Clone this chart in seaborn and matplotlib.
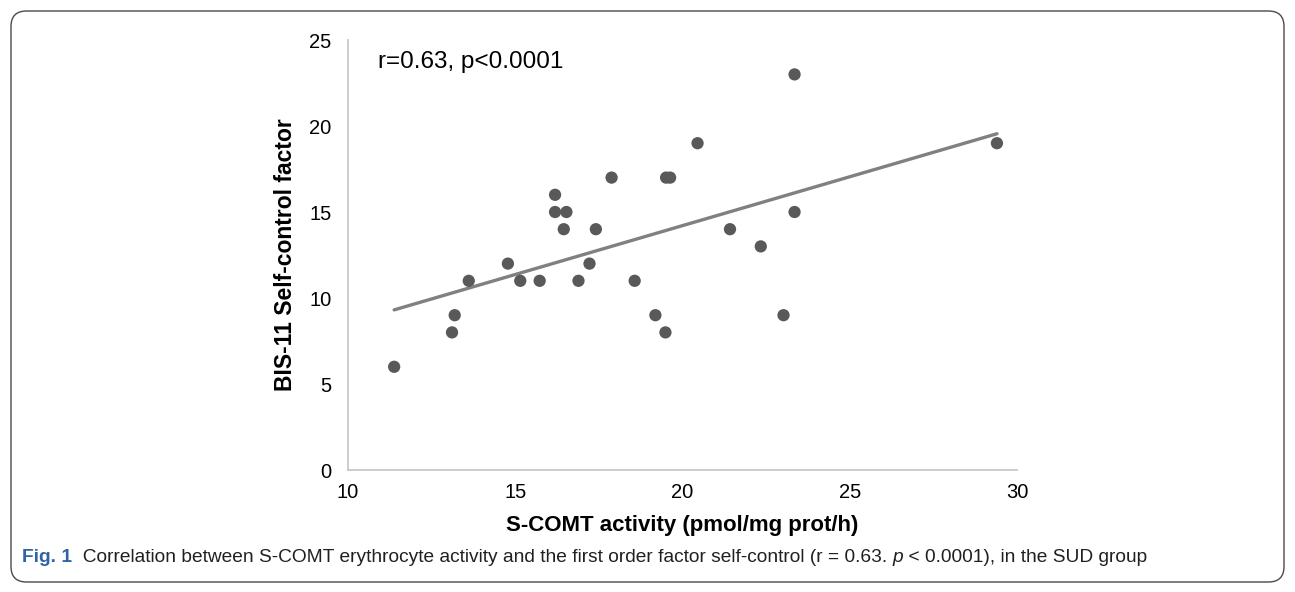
import matplotlib
matplotlib.use("Agg")
import matplotlib.pyplot as plt
from matplotlib import font_manager
from matplotlib.patches import FancyBboxPatch
import seaborn as sns
import pandas as pd

# Data
scomt_activity = [11.38, 13.11, 13.19, 13.61, 14.78, 15.15, 15.73, 16.19, 16.19,
                  16.53, 16.45, 16.89, 17.22, 17.41, 17.88, 18.57, 19.19, 19.49,
                  19.51, 19.63, 20.45, 21.42, 22.34, 23.02, 23.35, 23.35, 29.4]
self_control = [6, 8, 9, 11, 12, 11, 11, 16, 15,
                15, 14, 11, 12, 14, 17, 11, 9, 8,
                17, 17, 19, 14, 13, 9, 23, 15, 19]
x_ticks = [10, 15, 20, 25, 30]
y_ticks = [0, 5, 10, 15, 20, 25]

df = pd.DataFrame({"x": scomt_activity, "y": self_control})

sns.set_theme(style="white")
names = {f.name for f in font_manager.fontManager.ttflist}
base = "Liberation Sans" if "Liberation Sans" in names else "DejaVu Sans"
narrow = "Liberation Sans Narrow" if "Liberation Sans Narrow" in names else base
plt.rcParams["font.family"] = [base, "DejaVu Sans"]

fig = plt.figure(figsize=(12.95, 5.92), dpi=100)
ax = fig.add_axes([348 / 1295, 1 - 470 / 592, (1017 - 348) / 1295, (470 - 40) / 592])

sns.regplot(data=df, x="x", y="y", ax=ax, ci=None, truncate=True,
            scatter_kws=dict(s=78, color="#595959", edgecolor="none", alpha=1, zorder=3),
            line_kws=dict(color="#808080", lw=2.4, zorder=2))

ax.set_xlim(10, 30)
ax.set_ylim(0, 25)
ax.set_xticks(x_ticks)
ax.set_yticks(y_ticks)
ax.tick_params(axis="both", length=0, labelsize=14.5, colors="#000000")
ax.tick_params(axis="x", pad=9)
ax.tick_params(axis="y", pad=12)
for s in ["top", "right"]:
    ax.spines[s].set_visible(False)
for s in ["left", "bottom"]:
    ax.spines[s].set_color("#c8c8c8")
    ax.spines[s].set_linewidth(1.3)

ax.set_xlabel("S-COMT activity (pmol/mg prot/h)", fontsize=16, fontweight="bold",
              color="#000000", labelpad=10)
ax.set_ylabel("BIS-11 Self-control factor", fontsize=16.5, fontweight="bold",
              color="#000000", labelpad=9)

ax.text(378 / 1295, 1 - 62 / 592, "r=0.63, p<0.0001", transform=fig.transFigure,
        fontsize=17.5, ha="left", va="center", color="#000000")

# Rounded frame around figure
frame = FancyBboxPatch((11 / 1295, 10 / 592), 1273 / 1295, 571 / 592,
                       boxstyle="round,pad=0,rounding_size=0.012",
                       transform=fig.transFigure, facecolor="none",
                       edgecolor="#4a4a4a", lw=1.0, mutation_aspect=1295 / 592)
fig.patches.append(frame)

# Caption
cap_y = 1 - 557 / 592
fam = [narrow, "DejaVu Sans"]
t1 = fig.text(22 / 1295, cap_y, "Fig. 1", fontsize=13.8, fontweight="bold",
              color="#2f63a6", family=fam, va="center", ha="left")
a2 = ax.annotate("  Correlation between S-COMT erythrocyte activity and the first order factor self-control (r = 0.63. ",
                 xy=(1, 0), xycoords=t1, va="bottom", ha="left", fontsize=13.8,
                 color="#231f20", family=fam, annotation_clip=False)
a3 = ax.annotate("p", xy=(1, 0), xycoords=a2, va="bottom", ha="left", fontsize=13.8,
                 color="#231f20", style="italic", family=fam, annotation_clip=False)
a4 = ax.annotate(" < 0.0001), in the SUD group", xy=(1, 0), xycoords=a3, va="bottom",
                 ha="left", fontsize=13.8, color="#231f20", family=fam,
                 annotation_clip=False)

fig.savefig("out.png", dpi=100)
